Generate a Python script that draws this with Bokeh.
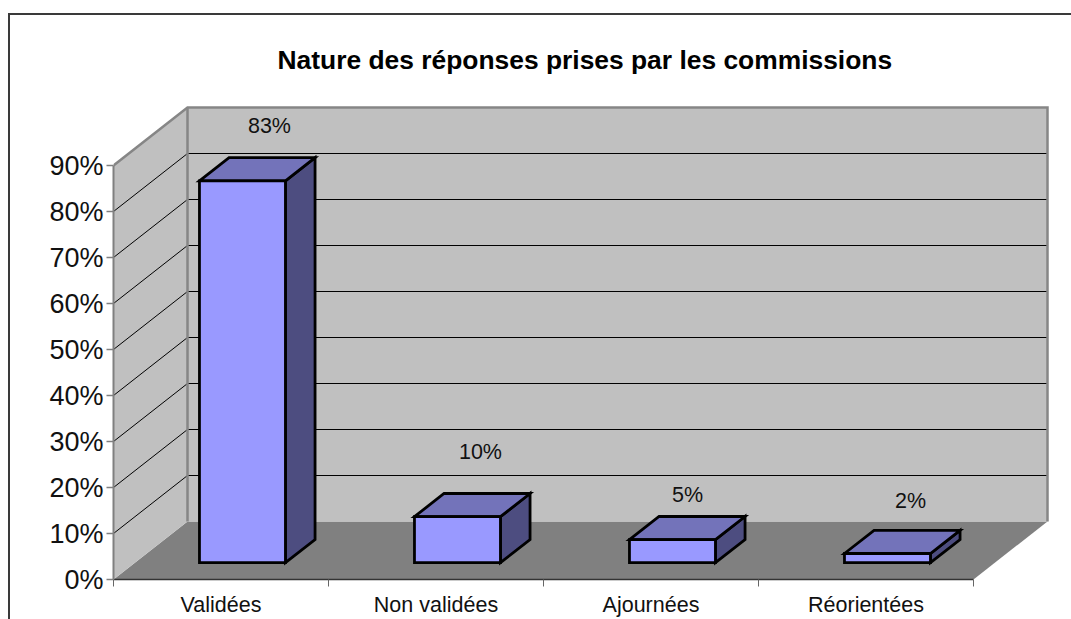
from bokeh.plotting import figure
from bokeh.models import (FixedTicker, PrintfTickFormatter, InlineStyleSheet, Range1d, LinearAxis)
from bokeh.core.properties import value
from bokeh.embed import file_html
from bokeh.resources import INLINE

TITLE = "Nature des réponses prises par les commissions"
categories = ["Validées", "Non validées", "Ajournées", "Réorientées"]
shares = [83, 10, 5, 2]
value_labels = ["83%", "10%", "5%", "2%"]
y_ticks = [0, 10, 20, 30, 40, 50, 60, 70, 80, 90]

FONT = "Liberation Sans"
PX_X = 215.0   # pixels per category
PX_Y = 4.6     # pixels per percentage point
DX = 74 / PX_X # full depth of the box, x
DY = 58 / PX_Y # full depth of the box, y
FRONT, BACK = 0.29, 0.69
BAR_W = 0.40
YMAX = 90
label_dx = [27, 23, 15, 23]
label_dy = [32, 42, 22, 29]


def P(x, depth, v):
    return x + depth * DX, v + depth * DY


def poly(*pts):
    return [a for a, _ in pts], [b for _, b in pts]


p = figure(width=1071, height=619, output_backend="svg", toolbar_location=None,
           x_range=Range1d(0, 958 / PX_X), y_range=Range1d(0, 499 / PX_Y),
           min_border_left=113, min_border_right=0, min_border_top=80, min_border_bottom=40,
           x_axis_type=None, y_axis_type=None, title=TITLE)
p.outline_line_color = None
p.grid.visible = False
p.background_fill_color = "white"
p.title.align = "left"
p.title.offset = 164
p.title.standoff = 11
p.title.text_font = FONT
p.title.text_font_style = "bold"
p.title.text_font_size = "26.4px"
p.title.text_color = "black"

n = len(categories)
# floor and walls
fl = [P(0, 0, 0), P(n, 0, 0), P(n, 1, 0), P(0, 1, 0)]
back = [P(0, 1, 0), P(n, 1, 0), P(n, 1, YMAX), P(0, 1, YMAX)]
left = [P(0, 0, 0), P(0, 1, 0), P(0, 1, YMAX), P(0, 0, YMAX)]
p.patch(*poly(*fl), fill_color="#808080", line_color=None)
p.patch(*poly(*back), fill_color="#C0C0C0", line_color=None)
p.patch(*poly(*left), fill_color="#C0C0C0", line_color=None)

# gridlines
gx, gy = [], []
for t in y_ticks[1:-1]:
    xs, ys = poly(P(0, 0, t), P(0, 1, t), P(n, 1, t))
    gx.append(xs)
    gy.append(ys)
p.multi_line(gx, gy, line_color="#000000", line_width=1)

# wall edges
ex, ey = poly(P(0, 0, YMAX), P(0, 1, YMAX), P(n, 1, YMAX), P(n, 1, 0))
p.line(ex, ey, line_color="#868686", line_width=2.5, line_join="miter")
ex, ey = poly(P(0, 1, 0), P(0, 1, YMAX))
p.line(ex, ey, line_color="#868686", line_width=2.5)

# bars
for i, v in enumerate(shares):
    x0, x1 = i + 0.5 - BAR_W / 2, i + 0.5 + BAR_W / 2
    front = [P(x0, FRONT, 0), P(x1, FRONT, 0), P(x1, FRONT, v), P(x0, FRONT, v)]
    side = [P(x1, FRONT, 0), P(x1, BACK, 0), P(x1, BACK, v), P(x1, FRONT, v)]
    top = [P(x0, FRONT, v), P(x1, FRONT, v), P(x1, BACK, v), P(x0, BACK, v)]
    for face, col in ((side, "#4D4D80"), (top, "#7373BA"), (front, "#9999FF")):
        p.patch(*poly(*face), fill_color=col, line_color="#000000", line_width=2.8,
                line_join="miter")

# value labels
lx, ly = [], []
for i, v in enumerate(shares):
    a, b = P(i + 0.5, FRONT, v)
    lx.append(a)
    ly.append(b + 23 / PX_Y)
p.text(lx, ly, text=value_labels, x_offset=label_dx, y_offset=[-d for d in label_dy],
       text_align="center", text_baseline="middle", text_font=value(FONT),
       text_font_size="21.5px", text_color="#111111")

# axes
ya = LinearAxis(ticker=FixedTicker(ticks=y_ticks), formatter=PrintfTickFormatter(format="%d%%"),
                bounds=(0, YMAX))
ya.axis_line_color = "#808080"
ya.axis_line_width = 2
ya.major_tick_line_color = "#808080"
ya.major_tick_line_width = 1.5
ya.major_tick_in = 0
ya.major_tick_out = 7
ya.minor_tick_line_color = None
ya.major_label_text_font = FONT
ya.major_label_text_font_size = "27px"
ya.major_label_text_color = "#111111"
ya.major_label_standoff = 3
p.add_layout(ya, "left")

xa = LinearAxis(ticker=FixedTicker(ticks=[i + 0.5 for i in range(n)], minor_ticks=list(range(n + 1))),
                major_label_overrides={i + 0.5: c for i, c in enumerate(categories)},
                bounds=(0, n))
xa.axis_line_color = "#333333"
xa.axis_line_width = 1.5
xa.major_tick_line_color = None
xa.major_tick_in = 0
xa.major_tick_out = 0
xa.minor_tick_line_color = "#666666"
xa.minor_tick_line_width = 1
xa.minor_tick_in = 0
xa.minor_tick_out = 7
xa.major_label_text_font = FONT
xa.major_label_text_font_size = "21.5px"
xa.major_label_text_color = "#111111"
xa.major_label_standoff = 6
p.add_layout(xa, "below")

# outer chart border, which runs off the page on the right and at the bottom
p.stylesheets = [InlineStyleSheet(css="""
:host::after { content: ""; position: absolute; left: 8px; top: 13px; right: 0; bottom: 0;
  border-left: 2px solid #3a3a3a; border-top: 2px solid #3a3a3a; z-index: 10; pointer-events: none; }
""")]

open("out.html", "w").write(file_html(p, INLINE))
